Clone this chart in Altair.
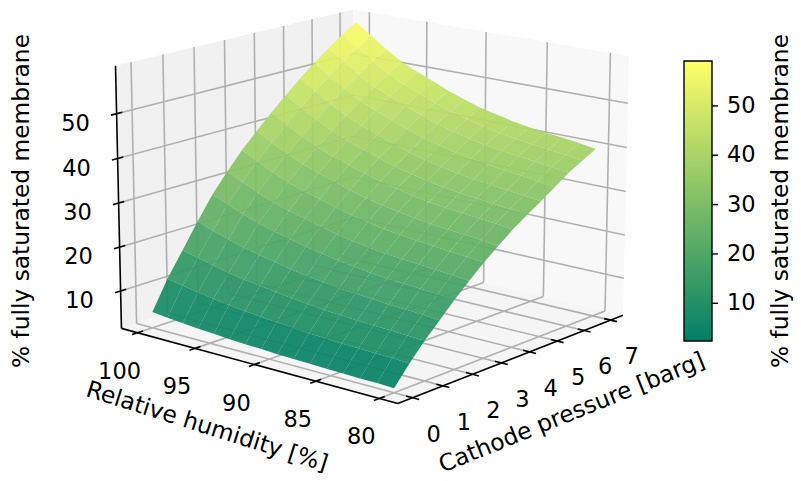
import numpy as np
import altair as alt

FONT = "DejaVu Sans"
pressure = [0, .5, 1, 1.5, 2, 2.5, 3, 3.5, 4, 4.5, 5, 5.5, 6, 6.5, 7]
humidity = [80, 81.33, 82.67, 84, 85.33, 86.67, 88, 89.33, 90.67, 92, 93.33, 94.67, 96, 97.33, 98.67, 100]
membrane = [
 [2.4,6.5,10.2,13.5,16.8,19.8,22.7,25.3,27.8,30.0,32.0,34.2,36.4,38.1,39.8],
 [2.5,6.7,10.4,13.8,17.1,20.2,23.1,25.7,28.3,30.5,32.5,34.7,36.9,38.7,40.4],
 [2.5,6.8,10.6,14.0,17.4,20.5,23.4,26.1,28.6,30.9,32.9,35.2,37.4,39.1,40.9],
 [2.6,6.9,10.7,14.2,17.7,20.8,23.8,26.4,29.0,31.3,33.4,35.6,37.8,39.6,41.3],
 [2.7,7.0,10.9,14.5,17.9,21.1,24.1,26.8,29.4,31.7,33.8,36.1,38.3,40.1,41.8],
 [2.8,7.2,11.2,14.8,18.3,21.5,24.6,27.3,29.9,32.2,34.4,36.7,38.9,40.7,42.5],
 [2.9,7.4,11.4,15.1,18.8,22.0,25.1,27.9,30.5,32.9,35.1,37.4,39.6,41.5,43.3],
 [3.0,7.7,11.8,15.6,19.3,22.6,25.8,28.6,31.3,33.7,35.9,38.3,40.5,42.4,44.2],
 [3.2,8.0,12.2,16.1,20.0,23.3,26.6,29.4,32.2,34.6,36.9,39.3,41.6,43.5,45.4],
 [3.3,8.3,12.7,16.7,20.7,24.2,27.5,30.4,33.2,35.8,38.1,40.5,42.9,44.8,46.7],
 [3.5,8.7,13.2,17.5,21.6,25.2,28.6,31.6,34.4,37.0,39.5,41.9,44.3,46.3,48.3],
 [3.8,9.1,13.7,18.2,22.5,26.1,29.6,32.7,35.6,38.3,40.8,43.4,45.8,47.8,49.8],
 [4.0,9.6,14.4,19.0,23.5,27.2,30.8,34.0,37.0,39.8,42.4,44.9,47.4,49.5,51.5],
 [4.3,10.2,15.2,20.1,24.8,28.7,32.4,35.7,38.8,41.7,44.4,47.1,49.5,51.8,53.8],
 [4.6,10.8,16.1,21.2,26.2,30.3,34.1,37.5,40.7,43.8,46.6,49.3,51.9,54.2,56.3],
 [5.0,11.5,17.0,22.5,27.7,32.0,36.0,39.5,42.8,46.0,49.0,51.8,54.4,56.8,59.0],
]
p_ticks = [0, 1, 2, 3, 4, 5, 6, 7]
rh_ticks = [100, 95, 90, 85, 80]
z_ticks = [10, 20, 30, 40, 50]
P_LIM = (-0.48, 7.48)
RH_LIM = (78.57, 101.43)
Z_LIM = (1.4, 60.6)
Z_RANGE = (2.35, 59.1)
ELEV, AZIM = 15.0, -140.0
CAM = 10.0
SCALE = 3025.0
CENTER = (366.0, 184.8)
W, H = 785, 465

e, a = np.radians(ELEV), np.radians(AZIM)
vw = np.array([np.cos(e)*np.cos(a), np.cos(e)*np.sin(a), np.sin(e)])
vu = np.array([-np.sin(a), np.cos(a), 0.0])
vv = np.cross(vw, vu)
box = np.array([4.0, 4.0, 3.0])
box = box * 1.8294640721620434 * 25 / 24 / np.linalg.norm(box)


def rel(p, rh, z):
    f = np.array([(p - P_LIM[0])/(P_LIM[1]-P_LIM[0]),
                  (rh - RH_LIM[0])/(RH_LIM[1]-RH_LIM[0]),
                  (z - Z_LIM[0])/(Z_LIM[1]-Z_LIM[0])])
    return (f - 0.5) * box


def proj(p, rh, z):
    d = rel(p, rh, z)
    k = SCALE / (CAM - vw @ d)
    return [float(CENTER[0] + k*(vu @ d)), float(CENTER[1] - k*(vv @ d))]


def seg(a3, b3):
    x, y = proj(*a3)
    x2, y2 = proj(*b3)
    return {"x": x, "y": y, "x2": x2, "y2": y2}


def poly(points, **props):
    ring = [proj(*q) for q in points]
    ring.append(ring[0])
    return {"type": "Feature", "properties": props,
            "geometry": {"type": "Polygon", "coordinates": [ring]}}


PL, PH = P_LIM
RL, RH_ = RH_LIM
ZL, ZH = Z_LIM
identity = dict(type="identity", scale=1, translate=[0, 0])
xs = alt.Scale(domain=[0, W], nice=False, zero=False)
ys = alt.Scale(domain=[H, 0], nice=False, zero=False)


def pane(points, color):
    return alt.Chart(alt.Data(values=[poly(points)])).mark_geoshape(
        fill=color, stroke=None).project(**identity)


def rules(rows, color, width):
    return alt.Chart(alt.Data(values=rows)).mark_rule(color=color, strokeWidth=width).encode(
        x=alt.X("x:Q", scale=xs, axis=None),
        y=alt.Y("y:Q", scale=ys, axis=None),
        x2="x2:Q", y2="y2:Q")


def texts(rows, angle=0, size=22.5):
    return alt.Chart(alt.Data(values=rows)).mark_text(
        font=FONT, fontSize=size, angle=angle, align="center", baseline="middle",
        color="#000000").encode(
        x=alt.X("x:Q", scale=xs, axis=None),
        y=alt.Y("y:Q", scale=ys, axis=None),
        text="t:N")


pane_y = pane([(PL, RH_, ZL), (PH, RH_, ZL), (PH, RH_, ZH), (PL, RH_, ZH)], "#f1f1f1")
pane_x = pane([(PH, RL, ZL), (PH, RH_, ZL), (PH, RH_, ZH), (PH, RL, ZH)], "#f8f8f8")
pane_z = pane([(PL, RL, ZL), (PH, RL, ZL), (PH, RH_, ZL), (PL, RH_, ZL)], "#f5f5f5")

grid = []
for v in p_ticks:
    grid.append(seg((v, RL, ZL), (v, RH_, ZL)))
    grid.append(seg((v, RH_, ZL), (v, RH_, ZH)))
for v in rh_ticks:
    grid.append(seg((PL, v, ZL), (PH, v, ZL)))
    grid.append(seg((PH, v, ZL), (PH, v, ZH)))
for v in z_ticks:
    grid.append(seg((PL, RH_, v), (PH, RH_, v)))
    grid.append(seg((PH, RH_, v), (PH, RL, v)))

cells = []
for i in range(len(humidity)-1):
    for j in range(len(pressure)-1):
        corners = [(pressure[j], humidity[i], membrane[i][j]),
                   (pressure[j+1], humidity[i], membrane[i][j+1]),
                   (pressure[j+1], humidity[i+1], membrane[i+1][j+1]),
                   (pressure[j], humidity[i+1], membrane[i+1][j])]
        mean_z = sum(c[2] for c in corners) / 4
        depth = np.mean([vw @ rel(*c) for c in corners])
        cells.append((depth, poly(corners, z=round(mean_z, 2))))
cells.sort(key=lambda t: t[0])
surface = alt.Chart(alt.Data(values=[c[1] for c in cells])).mark_geoshape(
    fillOpacity=0.94, stroke=None).project(**identity).encode(
    color=alt.Color("properties.z:Q",
                    scale=alt.Scale(domain=list(Z_RANGE), range=["#007f66", "#ffff66"],
                                    interpolate="rgb", nice=False, zero=False),
                    legend=alt.Legend(orient="none", legendX=676, legendY=53, title=None,
                                      gradientLength=280, gradientThickness=28,
                                      gradientStrokeColor="#000000", gradientStrokeWidth=1.4,
                                      values=z_ticks, labelFont=FONT, labelFontSize=22.5,
                                      labelColor="#000000", labelOffset=15, labelOverlap=False)))

axes = [seg((PL, RH_, ZL), (PL, RL, ZL)), seg((PL, RL, ZL), (PH, RL, ZL)), seg((PL, RH_, ZL), (PL, RH_, ZH))]
ticks = []
dp, dr = 0.022*(PH-PL), 0.022*(RH_-RL)
for v in rh_ticks:
    ticks.append(seg((PL-dp, v, ZL), (PL+dp, v, ZL)))
for v in p_ticks:
    ticks.append(seg((v, RL-dr, ZL), (v, RL+dr, ZL)))
for v in z_ticks:
    ticks.append(seg((PL-dp, RH_, v), (PL+dp, RH_, v)))

labels = []
for v in rh_ticks:
    x, y = proj(PL, v, ZL)
    labels.append({"x": x-18, "y": y+39, "t": str(v)})
for v in p_ticks:
    x, y = proj(v, RL, ZL)
    labels.append({"x": x+21, "y": y+37, "t": str(v)})
for v in z_ticks:
    x, y = proj(PL, RH_, v)
    labels.append({"x": x-41, "y": y+10, "t": str(v)})

cb_ticks = alt.Chart(alt.Data(values=[{"v": v} for v in z_ticks])).mark_rule(
    color="#000000", strokeWidth=1.4).encode(
    y=alt.Y("v:Q", scale=alt.Scale(domain=list(Z_RANGE), range=[333, 53], nice=False, zero=False), axis=None),
    x=alt.value(704), x2=alt.value(710))

chart = alt.layer(
    pane_y, pane_x, pane_z,
    rules(grid, "#b0b0b0", 1.6),
    surface,
    rules(axes, "#000000", 1.6),
    rules(ticks, "#000000", 1.6),
    texts(labels),
    texts([{"x": 199, "y": 419, "t": "Relative humidity [%]"}], angle=17.5, size=23.3),
    texts([{"x": 564, "y": 405, "t": "Cathode pressure [barg]"}], angle=338, size=23.3),
    texts([{"x": 14, "y": 193, "t": "% fully saturated membrane"}], angle=270, size=23.3),
    texts([{"x": 773, "y": 193, "t": "% fully saturated membrane"}], angle=270, size=23.3),
    cb_ticks,
).resolve_scale(y="independent").properties(
    width=W, height=H, padding=0, autosize=alt.AutoSizeParams(type="none"),
    background="#ffffff"
).configure_view(stroke=None)

chart.save("out.html", embed_options={"renderer": "svg", "actions": False})
